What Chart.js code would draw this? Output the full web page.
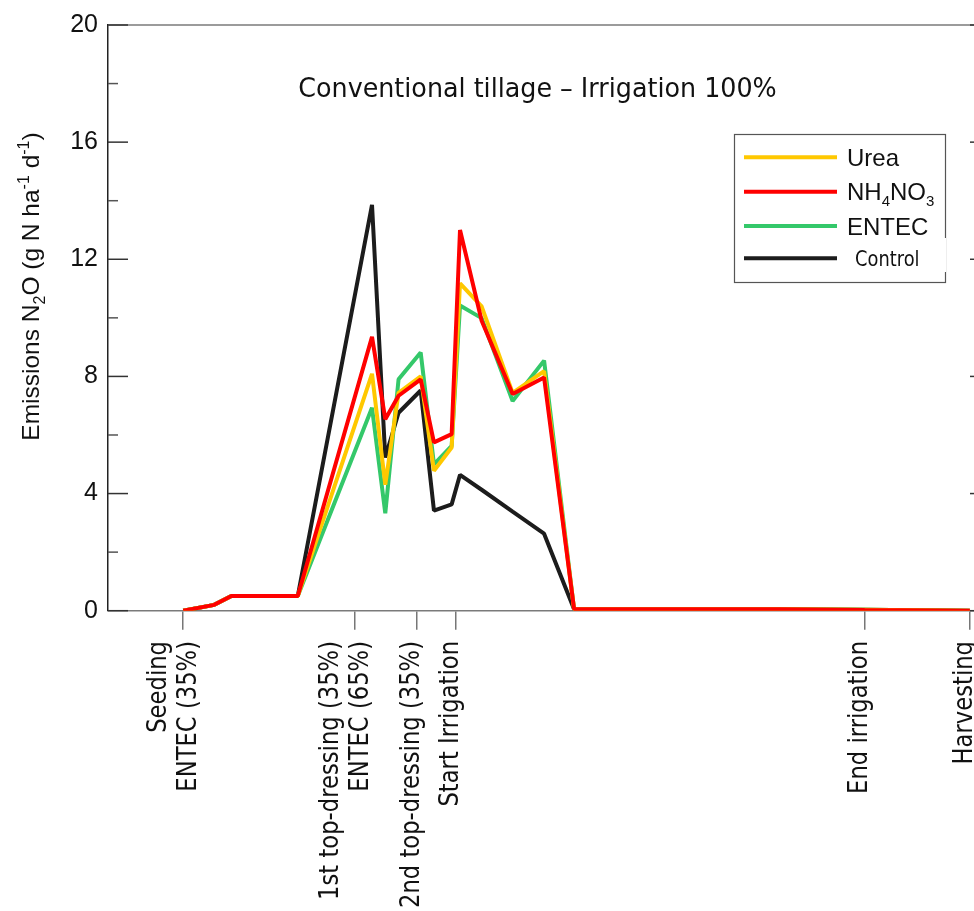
<!DOCTYPE html>
<html>
<head>
<meta charset="utf-8">
<script src="https://cdn.jsdelivr.net/npm/chart.js@4.4.1/dist/chart.umd.min.js"></script>
<style>
  html, body { margin: 0; padding: 0; background: #fff; overflow: hidden; }
  #wrap { width: 974px; height: 911px; overflow: hidden; position: relative; }
</style>
</head>
<body>
<div id="wrap"><canvas id="n2oChart" width="1000" height="911"></canvas></div>
<script>
/* data: days after seeding, g N ha-1 d-1 */
const days    = [0, 6.3, 9.8, 23.3, 38.4, 41.1, 43.8, 48.3, 51.0, 54.6, 56.3, 60.7, 67.0, 73.4, 79.5, 121.4, 138.6, 160];
const urea    = [0, 0.2, 0.5, 0.5, 8.09, 4.30, 7.44, 8.00, 4.78, 5.57, 11.18, 10.39, 7.44, 8.18, 0.05, 0.05, 0.03, 0];
const nh4no3  = [0, 0.2, 0.5, 0.5, 9.35, 6.54, 7.34, 7.90, 5.75, 6.03, 13.00, 9.90, 7.40, 7.96, 0.06, 0.05, 0.02, 0];
const entec   = [0, 0.2, 0.5, 0.5, 6.93, 3.33, 7.90, 8.82, 5.00, 5.63, 10.42, 9.99, 7.16, 8.54, 0.05, 0.05, 0.03, 0];
const control = [0, 0.2, 0.5, 0.5, 13.86, 5.23, 6.76, 7.52, 3.42, 3.63, 4.64, 4.13, 3.38, 2.63, 0.05, 0.05, 0.03, 0];

const seriesNames  = ['Urea', 'NH_4NO_3', 'ENTEC', 'Control'];
const seriesColors = ['#FFC800', '#FF0000', '#34C86A', '#1C1C1C'];

/* management events on the x axis */
const eventDays   = [0, 34.9, 47.5, 55.5, 138.6, 160];
const eventLabels = [
  ['Seeding', 'ENTEC (35%)'],
  ['1st top-dressing (35%)', 'ENTEC (65%)'],
  ['2nd top-dressing (35%)'],
  ['Start Irrigation'],
  ['End irrigation'],
  ['Harvesting']
];
const yTicks = [0, 4, 8, 12, 16, 20];
const titleText = 'Conventional tillage \u2013 Irrigation 100%';
const yTitle = 'Emissions N_2O (g N ha^{-1} d^{-1})';

/* text with _sub and ^sup parts */
function parseRich(s) {
  const parts = [];
  const re = /_\{([^}]*)\}|_(.)|\^\{([^}]*)\}|\^(.)|[^_^]+/g;
  let m;
  while ((m = re.exec(s))) {
    if (m[1] !== undefined || m[2] !== undefined) parts.push({ t: m[1] ?? m[2], k: 'sub' });
    else if (m[3] !== undefined || m[4] !== undefined) parts.push({ t: m[3] ?? m[4], k: 'sup' });
    else parts.push({ t: m[0], k: '' });
  }
  return parts;
}
function drawRich(ctx, s, x, y, size, family, align) {
  const parts = parseRich(s);
  const small = Math.round(size * 0.64);
  let w = 0;
  parts.forEach(p => {
    ctx.font = (p.k ? small : size) + 'px ' + family;
    p.w = ctx.measureText(p.t).width;
    w += p.w;
  });
  let cx = align === 'center' ? x - w / 2 : x;
  ctx.textAlign = 'left';
  ctx.textBaseline = 'alphabetic';
  parts.forEach(p => {
    ctx.font = (p.k ? small : size) + 'px ' + family;
    const dy = p.k === 'sub' ? size * 0.24 : p.k === 'sup' ? -size * 0.4 : 0;
    ctx.fillText(p.t, cx, y + dy);
    cx += p.w;
  });
}

const decor = {
  id: 'decor',
  afterDraw(chart) {
    const { ctx, chartArea: a, scales: { x, y } } = chart;
    const seg = (x1, y1, x2, y2) => { ctx.beginPath(); ctx.moveTo(x1, y1); ctx.lineTo(x2, y2); ctx.stroke(); };
    ctx.save();

    // frame top / right
    ctx.strokeStyle = '#7a7a7a';
    ctx.lineWidth = 1.5;
    seg(a.left, a.top, a.right, a.top);
    seg(a.right, a.top, a.right, a.bottom);

    // inward y ticks
    for (let v = 0; v <= 20; v += 2) {
      const py = y.getPixelForValue(v);
      const major = yTicks.includes(v);
      ctx.strokeStyle = major ? '#333' : '#555';
      seg(a.left, py, a.left + (major ? 20 : 10), py);
      if (major) seg(a.right - 20, py, a.right, py);
    }

    // title
    ctx.fillStyle = '#111';
    ctx.save();
    ctx.translate(a.left + 429.5, 97);
    ctx.scale(0.94, 1);
    ctx.font = '27px "DejaVu Sans"';
    ctx.textAlign = 'center';
    ctx.textBaseline = 'alphabetic';
    ctx.fillText(titleText, 0, 0);
    ctx.restore();

    // y axis title
    ctx.save();
    ctx.translate(39, 286.5);
    ctx.rotate(-Math.PI / 2);
    drawRich(ctx, yTitle, 0, 0, 24.5, '"Liberation Sans"', 'center');
    ctx.restore();

    // event labels under the x axis
    ctx.font = '27px "DejaVu Sans"';
    eventDays.forEach((d, i) => {
      const px = x.getPixelForValue(d);
      const lines = eventLabels[i];
      const offs = lines.length === 2 ? [-24, 6] : [-5];
      lines.forEach((txt, j) => {
        ctx.save();
        ctx.translate(px + offs[j], 641);
        ctx.rotate(-Math.PI / 2);
        ctx.scale(0.84, 1);
        ctx.textAlign = 'right';
        ctx.textBaseline = 'middle';
        ctx.fillText(txt, 0, 0);
        ctx.restore();
      });
    });

    // legend box
    const lx = 734, ly = 134, lw = 211, lh = 148;
    ctx.fillStyle = '#fff';
    ctx.fillRect(lx, ly, lw, lh);
    ctx.strokeStyle = '#555';
    ctx.lineWidth = 1.2;
    ctx.strokeRect(lx + 0.5, ly + 0.5, lw, lh);
    const rowsY = [157.3, 191.7, 226, 258.3];
    chart.data.datasets.forEach((ds, i) => {
      const ry = rowsY[i];
      ctx.strokeStyle = seriesColors[i];
      ctx.lineWidth = 4;
      seg(744, ry, 837, ry);
      ctx.fillStyle = '#111';
      if (i === 3) {
        ctx.fillStyle = '#fff';
        ctx.fillRect(849, 238, 97, 34);
        ctx.fillStyle = '#111';
        ctx.save();
        ctx.translate(855, ry + 8);
        ctx.scale(0.85, 1);
        ctx.font = '21px "DejaVu Sans"';
        ctx.textAlign = 'left';
        ctx.textBaseline = 'alphabetic';
        ctx.fillText(seriesNames[i], 0, 0);
        ctx.restore();
      } else {
        drawRich(ctx, seriesNames[i], 847, ry + 8.5, 24, '"Liberation Sans"', 'left');
      }
    });
    ctx.restore();
  }
};

const pts = arr => days.map((d, i) => ({ x: d, y: arr[i] }));
const allSeries = [urea, nh4no3, entec, control];
const drawOrder = [1, 0, 2, 3];

new Chart(document.getElementById('n2oChart').getContext('2d'), {
  type: 'line',
  data: {
    datasets: allSeries.map((s, i) => ({
      label: seriesNames[i],
      data: pts(s),
      borderColor: seriesColors[i],
      backgroundColor: seriesColors[i],
      borderWidth: 4,
      borderJoinStyle: 'bevel',
      pointRadius: 0,
      tension: 0,
      fill: false,
      order: drawOrder[i]
    }))
  },
  options: {
    responsive: false,
    animation: false,
    events: [],
    layout: { padding: { left: 0, right: 10, top: 22, bottom: 0 } },
    plugins: { legend: { display: false }, tooltip: { enabled: false } },
    scales: {
      x: {
        type: 'linear',
        min: -15.3,
        max: 164.1,
        afterBuildTicks: s => { s.ticks = eventDays.map(v => ({ value: v })); },
        afterFit: s => { s.height = 300.3; },
        ticks: { display: false },
        grid: { drawOnChartArea: false, drawTicks: true, tickLength: 19, color: '#777', lineWidth: 1.5 },
        border: { display: true, color: '#7a7a7a', width: 1.5 }
      },
      y: {
        min: 0,
        max: 20,
        afterBuildTicks: s => { s.ticks = yTicks.map(v => ({ value: v })); },
        afterFit: s => { s.width = 108; },
        ticks: { color: '#111', padding: 10, font: { family: 'Liberation Sans', size: 25 } },
        grid: { drawOnChartArea: false, drawTicks: false },
        border: { display: true, color: '#222', width: 1.5 }
      }
    }
  },
  plugins: [decor]
});
</script>
</body>
</html>
